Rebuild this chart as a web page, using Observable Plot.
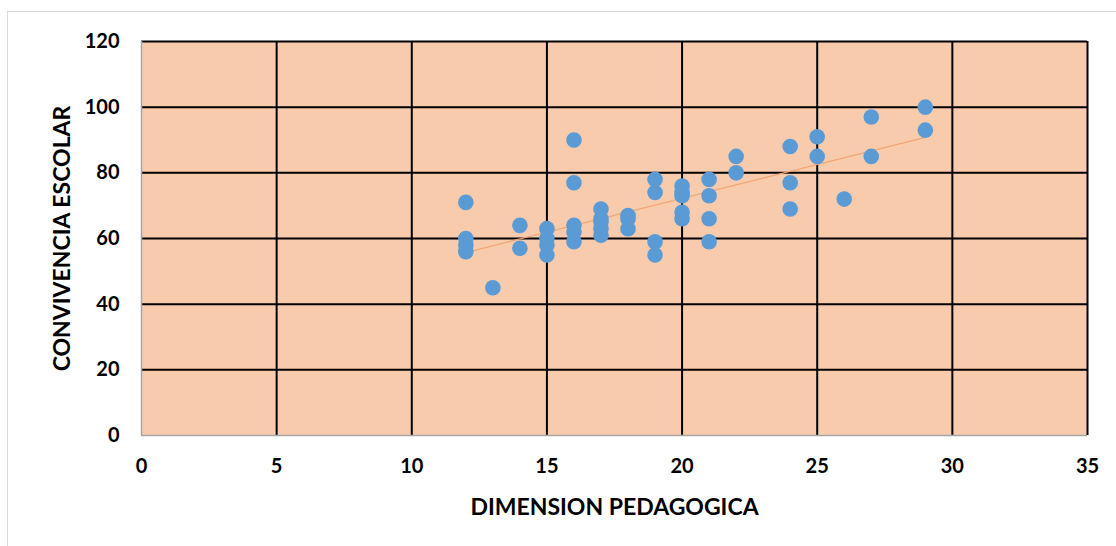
<!DOCTYPE html>
<html>
<head>
<meta charset="utf-8">
<script src="https://cdn.jsdelivr.net/npm/d3@7"></script>
<script src="https://cdn.jsdelivr.net/npm/@observablehq/plot@0.6"></script>
<style>
  html, body { margin: 0; padding: 0; background: #fff; }
  #wrap { position: relative; width: 1116px; height: 546px; overflow: hidden; }
  #border { position: absolute; left: 7px; top: 11px; width: 1200px; height: 600px; border: 1px solid #d9d9d9; }
  #chart { position: absolute; left: 0; top: 0; }
</style>
</head>
<body>
<div id="wrap"><div id="border"></div><div id="chart"></div></div>
<script>
// Paired observations
const dimensionPedagogica = [12,12,12,12, 13, 14,14, 15,15,15,15, 16,16,16,16,16, 17,17,17,17,17, 18,18,18, 19,19,19,19, 20,20,20,20,20, 21,21,21,21, 22,22, 24,24,24, 25,25, 26, 27,27, 29,29];
const convivenciaEscolar = [71,60,58,56, 45, 64,57, 63,60,58,55, 90,77,64,62,59, 69,66,65,63,61, 67,66,63, 78,74,59,55, 76,74,73,68,66, 78,73,66,59, 85,80, 88,77,69, 91,85, 72, 97,85, 100,93];
const xTicks = [0,5,10,15,20,25,30,35];
const yTicks = [0,20,40,60,80,100,120];
const xTitle = "DIMENSION PEDAGOGICA";
const yTitle = "CONVIVENCIA ESCOLAR";

const data = dimensionPedagogica.map((x, i) => ({x, y: convivenciaEscolar[i]}));

const chart = Plot.plot({
  width: 1116,
  height: 546,
  marginLeft: 141,
  marginRight: 29,
  marginTop: 41,
  marginBottom: 111,
  x: {domain: [0, 35]},
  y: {domain: [0, 120]},
  style: {fontFamily: "Lato, 'Open Sans', sans-serif", background: "transparent", color: "#000"},
  marks: [
    Plot.frame({fill: "#f8cbad", stroke: null}),
    Plot.ruleY(yTicks.filter(d => d > 0), {stroke: "#000", strokeWidth: 2}),
    Plot.ruleX(xTicks.filter(d => d > 0), {stroke: "#000", strokeWidth: 2}),
    Plot.ruleX([0], {stroke: "#a6a6a6", strokeWidth: 1.5}),
    Plot.ruleY([0], {stroke: "#a6a6a6", strokeWidth: 1.5}),
    Plot.linearRegressionY(data, {x: "x", y: "y", ci: 0, stroke: "#f2a674", strokeWidth: 1.2}),
    Plot.dot(data, {x: "x", y: "y", r: 7.8, fill: "#5b9bd5", stroke: null}),
    Plot.axisX({ticks: xTicks, tickSize: 0, tickPadding: 23, fontSize: 20, fontWeight: "bold", label: null}),
    Plot.axisY({ticks: yTicks, tickSize: 0, tickPadding: 22, fontSize: 20, fontWeight: "bold", label: null}),
    Plot.axisX({ticks: [], tickSize: 0, fontSize: 23, fontWeight: "bold",
      label: xTitle, labelAnchor: "center", labelArrow: "none", labelOffset: 79}),
    Plot.axisY({ticks: [], tickSize: 0, fontSize: 23, fontWeight: "bold",
      label: yTitle, labelAnchor: "center", labelArrow: "none", labelOffset: 88})
  ]
});
document.getElementById("chart").appendChild(chart);
</script>
</body>
</html>
